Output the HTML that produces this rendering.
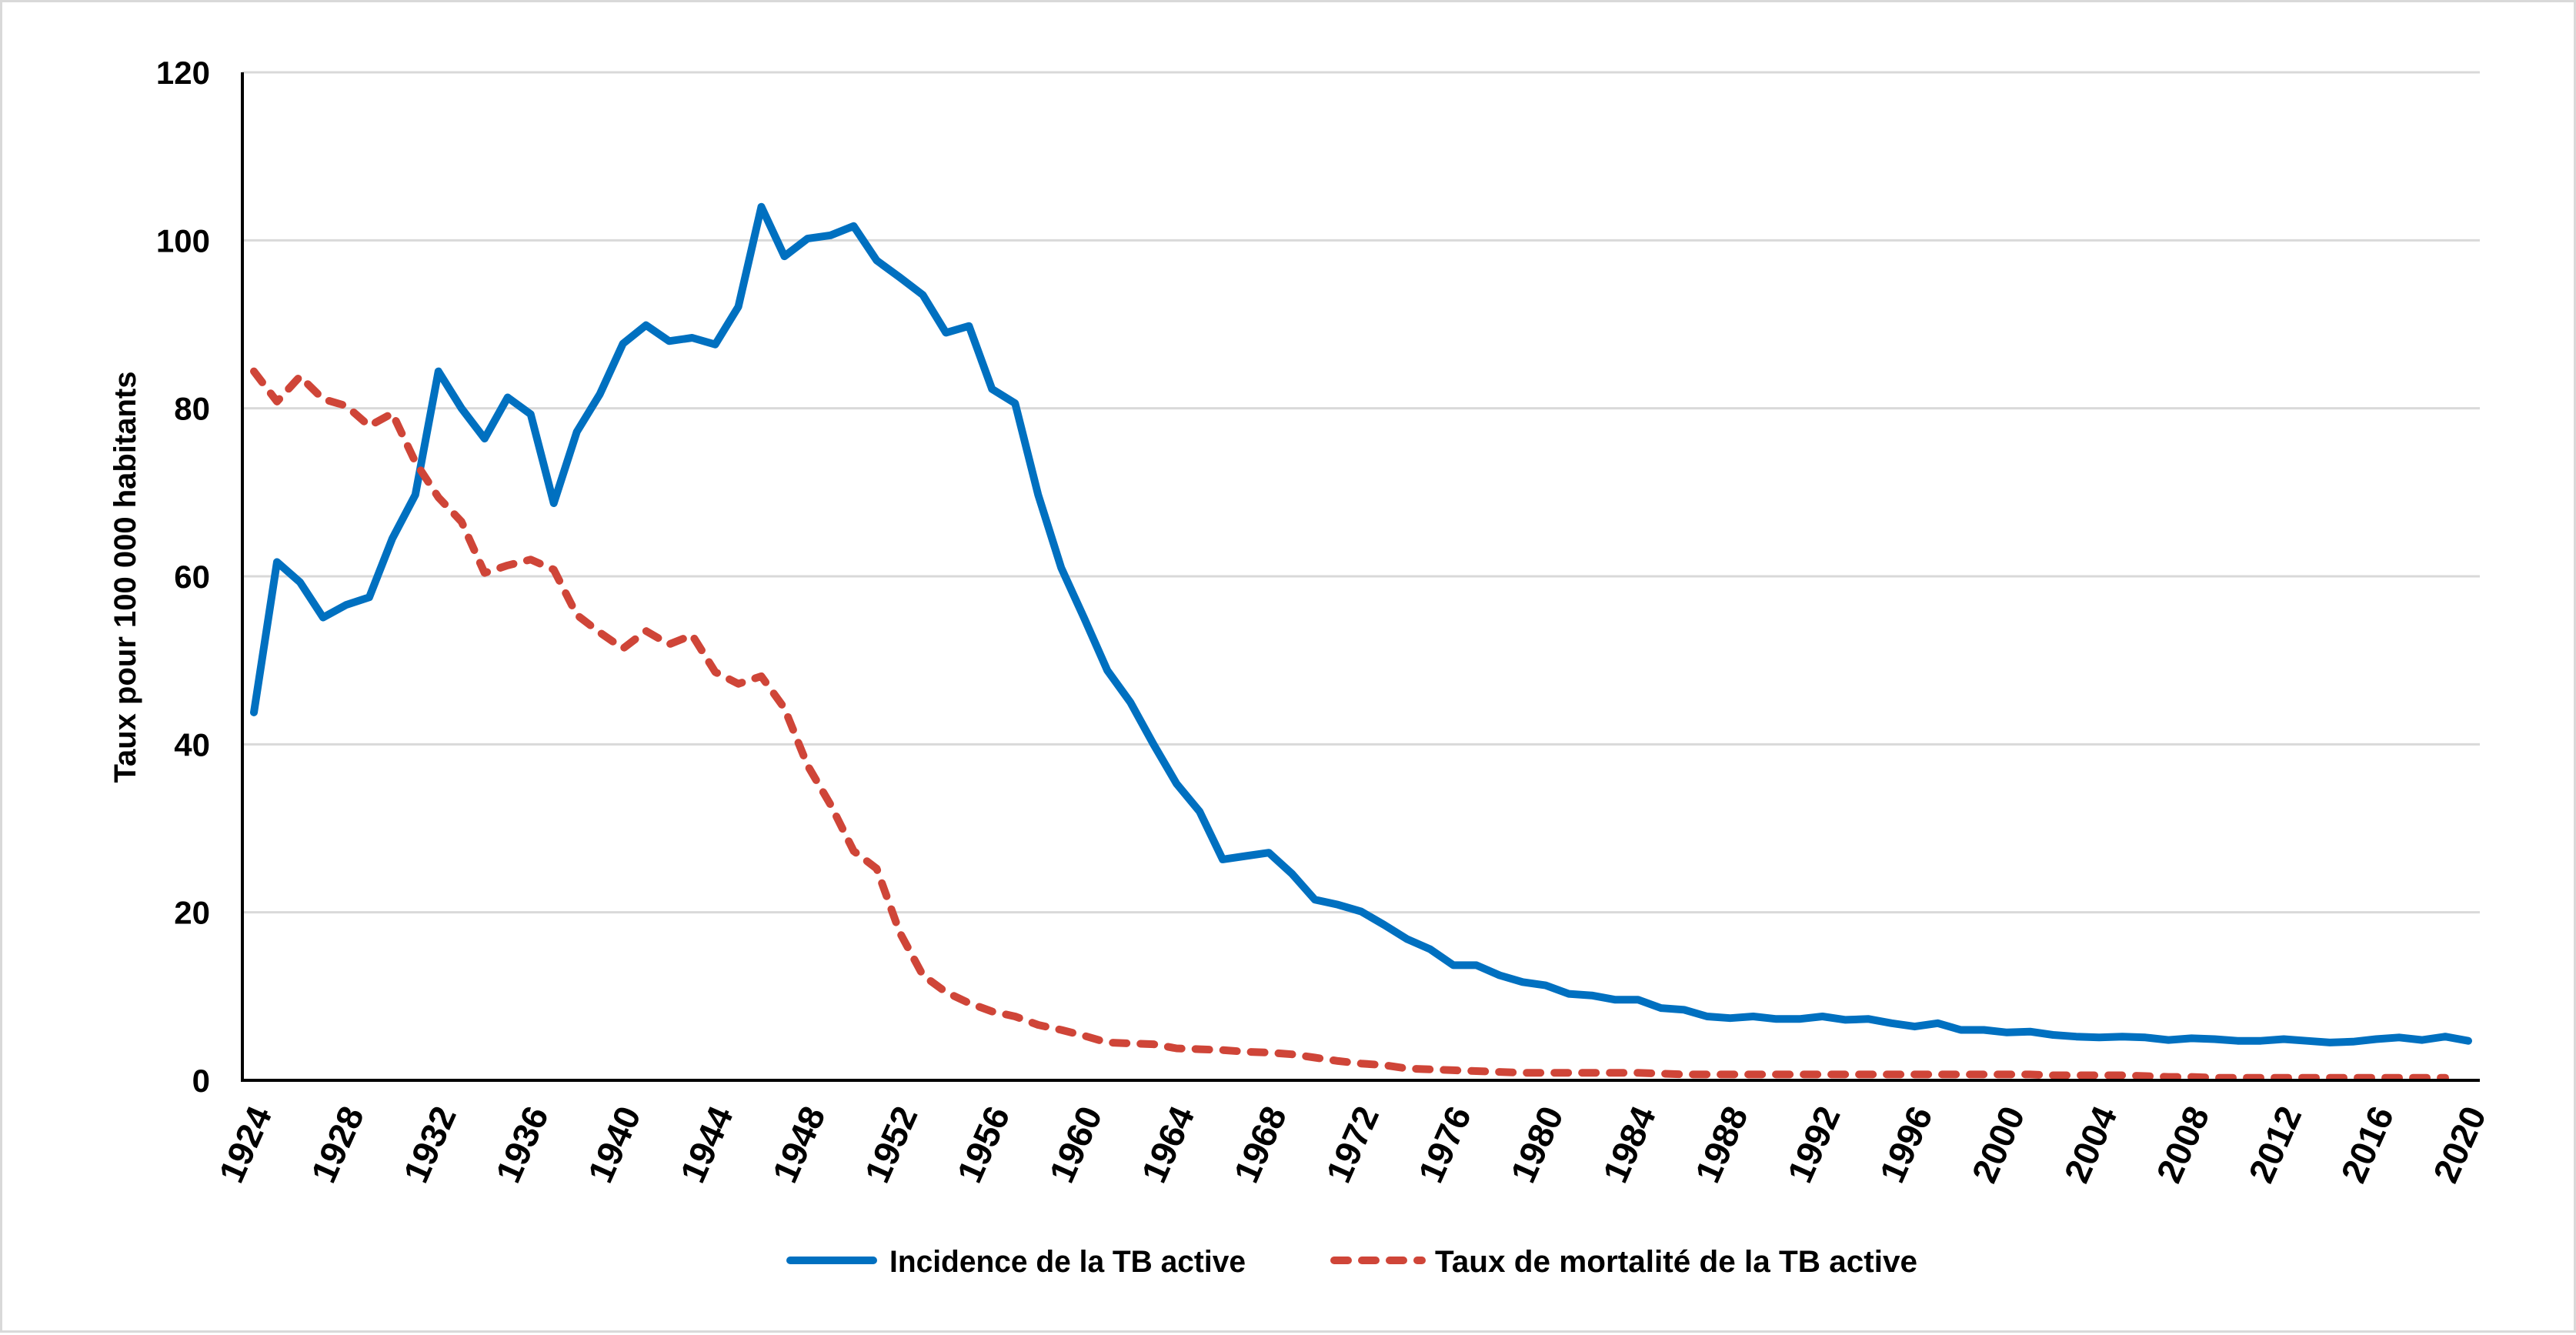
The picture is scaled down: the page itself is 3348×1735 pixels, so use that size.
<!DOCTYPE html>
<html><head><meta charset="utf-8"><style>
html,body{margin:0;padding:0;background:#fff;}
#wrap{position:relative;width:3348px;height:1732px;box-sizing:border-box;border:3px solid #d9d9d9;background:#fff;}
svg{position:absolute;left:0;top:0;}
text{font-family:"Liberation Sans",sans-serif;font-weight:bold;fill:#000;}
</style></head><body>
<div id="wrap">
<svg id="chart" width="3348" height="1732">
<text x="0" y="0" font-size="40" transform="translate(173,747) rotate(-90)" text-anchor="middle">Taux pour 100 000 habitants</text>
<g id="legend">
<g>
<line x1="1024" y1="1635" x2="1132" y2="1635" stroke="#0070C0" stroke-width="10" stroke-linecap="round"/>
<text x="1153" y="1650" font-size="40" textLength="463" lengthAdjust="spacingAndGlyphs">Incidence de la TB active</text>
</g>
<g>
<line x1="1731" y1="1635" x2="1845" y2="1635" stroke="#CF4538" stroke-width="10" stroke-linecap="round" stroke-dasharray="18 18"/>
<text x="1862" y="1650" font-size="40" textLength="627" lengthAdjust="spacingAndGlyphs">Taux de mortalité de la TB active</text>
</g>
</g>
</svg>
</div>
<script>
const years = [];
for (let y = 1924; y <= 2020; y++) years.push(y);
const yTicks = [0, 20, 40, 60, 80, 100, 120];
const xTickLabels = [1924,1928,1932,1936,1940,1944,1948,1952,1956,1960,1964,1968,1972,1976,1980,1984,1988,1992,1996,2000,2004,2008,2012,2016,2020];
const incidence = [43.8,61.7,59.3,55.1,56.6,57.5,64.5,69.7,84.4,80.0,76.4,81.3,79.3,68.7,77.2,81.7,87.7,89.9,88.0,88.4,87.6,92.1,104,98.1,100.2,100.6,101.7,97.6,95.6,93.5,89.0,89.8,82.3,80.6,69.7,61.0,55.0,48.8,45.0,40.0,35.3,32.0,26.3,26.7,27.1,24.6,21.5,20.9,20.1,18.5,16.8,15.6,13.7,13.7,12.5,11.7,11.3,10.3,10.1,9.6,9.6,8.6,8.4,7.6,7.4,7.6,7.3,7.3,7.6,7.2,7.3,6.8,6.4,6.8,6.0,6.0,5.7,5.8,5.4,5.2,5.1,5.2,5.1,4.8,5.0,4.9,4.7,4.7,4.9,4.7,4.5,4.6,4.9,5.1,4.8,5.2,4.7];
const mortality = [84.4,80.8,83.8,81.1,80.3,77.9,79.4,73.6,69.4,66.5,60.4,61.3,62.0,60.8,55.4,53.3,51.4,53.5,51.9,53.0,48.6,47.2,48.1,44.3,37.5,32.8,27.3,25.2,17.6,12.5,10.5,9.2,8.2,7.6,6.6,6.0,5.3,4.5,4.4,4.3,3.8,3.7,3.6,3.4,3.3,3.1,2.7,2.3,2.0,1.8,1.4,1.3,1.2,1.1,1.0,0.9,0.9,0.9,0.9,0.9,0.9,0.8,0.7,0.7,0.7,0.7,0.7,0.7,0.7,0.7,0.7,0.7,0.7,0.7,0.7,0.7,0.7,0.7,0.6,0.6,0.6,0.6,0.5,0.4,0.4,0.3,0.3,0.3,0.3,0.3,0.3,0.3,0.3,0.3,0.3,0.3];

const NS = "http://www.w3.org/2000/svg";
const svg = document.getElementById('chart');
const L = 312, R = 3220, T = 91, B = 1401;
const catW = (R - L) / years.length;
function xPos(i){ return L + catW * (i + 0.5); }
function yPos(v){ return B - (v / 120) * (B - T); }
function mk(tag, attrs){ const e = document.createElementNS(NS, tag); for (const k in attrs) e.setAttribute(k, attrs[k]); return e; }

const grid = mk('g', {});


svg.insertBefore(grid, svg.firstChild);
yTicks.forEach(t => {
  if (t > 0) {
    const ln = mk('line', {x1: L, x2: R, y1: yPos(t), y2: yPos(t), stroke: '#d9d9d9', 'stroke-width': 3});
    
    
    grid.appendChild(ln);
  }
  const tx = mk('text', {x: 270, y: yPos(t) + 15, 'font-size': 42, 'text-anchor': 'end'});
  tx.textContent = t;
  
  
  svg.appendChild(tx);
});

xTickLabels.forEach(y => {
  const i = years.indexOf(y);
  const tx = mk('text', {'font-size': 46, 'text-anchor': 'end', transform: 'translate(' + (xPos(i) + 24) + ',1444) rotate(-66)'});
  tx.textContent = y;
  
  
  svg.appendChild(tx);
});

function series(vals, color, dash, name){
  const pts = vals.map((v, i) => xPos(i).toFixed(1) + ',' + yPos(v).toFixed(1)).join(' ');
  const p = mk('polyline', {points: pts, fill: 'none', stroke: color, 'stroke-width': 10, 'stroke-linejoin': 'round', 'stroke-linecap': 'round'});
  if (dash) p.setAttribute('stroke-dasharray', dash);
  
  
  svg.appendChild(p);
}
series(incidence, '#0070C0', null, 'incidence-line');
series(mortality, '#CF4538', '18 18', 'mortality-line');

const ya = mk('line', {x1: L, x2: L, y1: T, y2: B, stroke: '#000', 'stroke-width': 4});


svg.appendChild(ya);
const xa = mk('line', {x1: L - 2, x2: R, y1: B, y2: B, stroke: '#000', 'stroke-width': 4});


svg.appendChild(xa);
</script>
</body></html>
